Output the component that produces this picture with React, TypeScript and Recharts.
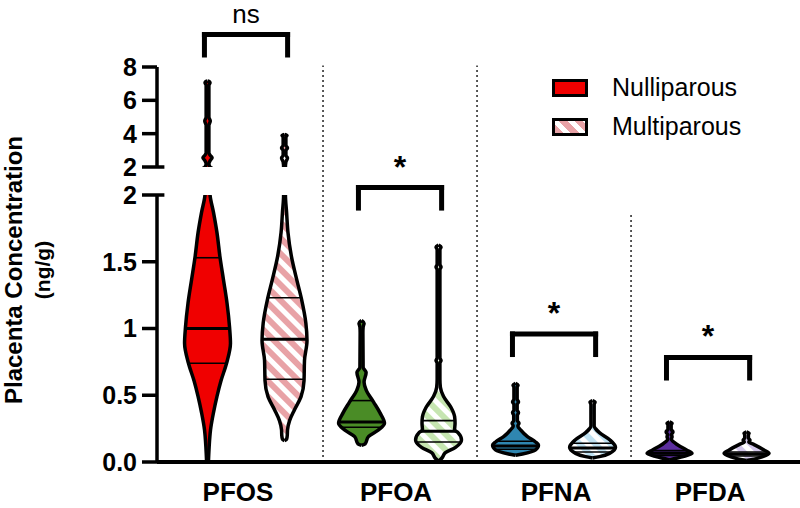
import React from "react";
import { ComposedChart, Area, XAxis, YAxis, ReferenceLine, ReferenceDot } from "recharts";

const CATEGORIES = ["PFOS", "PFOA", "PFNA", "PFDA"];
const GROUPS = ["Nulliparous", "Multiparous"];

// violin outlines: [concentration ng/g, relative width (100 = widest)]
const PFOS_NULLI = [
  [0, 4], [0.11, 7], [0.24, 13], [0.37, 26], [0.49, 41], [0.61, 59], [0.74, 83], [0.89, 100],
  [1.01, 96], [1.19, 85], [1.36, 70], [1.54, 54], [1.72, 41], [1.87, 26], [2.0, 11],
  [2.2, 6], [2.4, 12], [2.55, 20], [2.7, 12], [2.85, 6], [4.5, 6], [4.76, 12], [5.0, 6],
  [6.9, 6], [7.05, 11], [7.12, 8], [7.16, 0],
];
const PFOS_MULTI = [
  [0.16, 0], [0.17, 9], [0.2, 12], [0.24, 13], [0.31, 22], [0.39, 43], [0.49, 72], [0.61, 85],
  [0.76, 87], [0.91, 98], [1.04, 93], [1.22, 74], [1.36, 54], [1.54, 30], [1.72, 15], [1.87, 9],
  [2.0, 4], [2.3, 6], [2.54, 13], [2.7, 6], [3.0, 6], [3.14, 13], [3.3, 6], [3.8, 6], [3.9, 11], [3.96, 0],
];
const PFOA_NULLI = [
  [0.125, 0], [0.135, 15], [0.19, 30], [0.24, 74], [0.29, 100], [0.37, 80], [0.45, 52], [0.54, 20],
  [0.6, 11], [0.67, 20], [0.71, 7], [0.97, 6], [1.01, 7], [1.04, 11], [1.06, 0],
];
const PFOA_MULTI = [
  [0.005, 0], [0.03, 15], [0.07, 30], [0.11, 74], [0.165, 100], [0.22, 85], [0.24, 70], [0.29, 72],
  [0.34, 70], [0.41, 54], [0.49, 22], [0.56, 8], [0.62, 6], [0.74, 6], [0.76, 11], [0.78, 6],
  [1.44, 6], [1.46, 11], [1.48, 6], [1.59, 6], [1.61, 11], [1.625, 0],
];
const PFNA_NULLI = [
  [0.05, 0], [0.06, 30], [0.09, 87], [0.127, 100], [0.15, 87], [0.19, 52], [0.24, 22], [0.27, 10],
  [0.29, 15], [0.31, 8], [0.35, 8], [0.37, 13], [0.39, 7], [0.43, 7], [0.45, 13], [0.47, 7],
  [0.56, 7], [0.577, 11], [0.59, 0],
];
const PFNA_MULTI = [
  [0.03, 0], [0.04, 30], [0.065, 74], [0.11, 100], [0.165, 76], [0.22, 30], [0.25, 13], [0.27, 7],
  [0.43, 7], [0.45, 11], [0.46, 0],
];
const PFDA_NULLI = [
  [0.015, 0], [0.02, 9], [0.04, 59], [0.065, 98], [0.09, 74], [0.14, 26], [0.17, 8], [0.19, 11],
  [0.205, 8], [0.225, 15], [0.245, 7], [0.28, 7], [0.29, 11], [0.3, 0],
];
const PFDA_MULTI = [
  [0.012, 0], [0.017, 20], [0.04, 70], [0.065, 98], [0.09, 76], [0.13, 33], [0.15, 10], [0.165, 15],
  [0.18, 8], [0.205, 8], [0.215, 11], [0.225, 0],
];
const NULLI_SHAPES = [PFOS_NULLI, PFOA_NULLI, PFNA_NULLI, PFDA_NULLI];
const MULTI_SHAPES = [PFOS_MULTI, PFOA_MULTI, PFNA_MULTI, PFDA_MULTI];

// 25th / 50th / 75th percentiles
const NULLI_QUART = [[0.74, 1.0, 1.53], [0.26, 0.3, 0.46], [0.095, 0.12, 0.155], [0.05, 0.065, 0.085]];
const MULTI_QUART = [[0.62, 0.92, 1.23], [0.15, 0.23, 0.31], [0.075, 0.105, 0.14], [0.045, 0.06, 0.075]];

const SIG_TEXT = ["ns", "*", "*", "*"];
const SIG_Y = [9.95, 2.056, 0.959, 0.783]; // PFOS bracket sits in the upper (2-8) panel

const LOWER_TICKS = [0, 0.5, 1, 1.5, 2];
const LOWER_TICK_LABELS = ["0.0", "0.5", "1", "1.5", "2"];
const UPPER_TICKS = [2, 4, 6, 8];
const SEP_TOP = [2.97, 2.97, 1.85];

const NULLI_FILL = ["#f00000", "#4a8c26", "#2f86b0", "#5b2e9e"];
const MULTI_TINT = ["#e8a2a6", "#c6e5b1", "#bfe1f1", "#d2c6ea"];

const W = 800;
const H = 508;
const FONT = "'Liberation Sans', Arial, Helvetica, sans-serif";
const X_DOMAIN = [-0.078, 4.097];
const HALF = 0.149; // x units for a width of 100
const CAT_TICKS = [0.5, 1.5, 2.5, 3.5];
const CAT_SHIFT = [-8, -4, 2, 2];

const rows = (shape: number[][], cx: number) =>
  shape.map(([y, w]) => ({ y, r: [cx - (w / 100) * HALF, cx + (w / 100) * HALF] }));

const widthAt = (shape: number[][], q: number) => {
  for (let i = 1; i < shape.length; i++) {
    const [y0, w0] = shape[i - 1];
    const [y1, w1] = shape[i];
    if (q >= y0 && q <= y1) return w0 + ((w1 - w0) * (q - y0)) / (y1 - y0);
  }
  return 0;
};

function violins() {
  const out: any[] = [];
  CATEGORIES.forEach((c, i) => {
    out.push(
      <Area key={c + "n"} data={rows(NULLI_SHAPES[i], i + 0.25)} dataKey="r" type="monotone"
        stroke="#000" strokeWidth={3.5} fill={NULLI_FILL[i]} fillOpacity={1} dot={false} activeDot={false}
        isAnimationActive={false} />,
      <Area key={c + "m"} data={rows(MULTI_SHAPES[i], i + 0.75)} dataKey="r" type="monotone"
        stroke="#000" strokeWidth={3.5} fill={`url(#hatch${i})`} fillOpacity={1} dot={false} activeDot={false}
        isAnimationActive={false} />
    );
  });
  return out;
}

function quartileLines() {
  const out: any[] = [];
  CATEGORIES.forEach((c, i) => {
    [[NULLI_SHAPES[i], NULLI_QUART[i], i + 0.25], [MULTI_SHAPES[i], MULTI_QUART[i], i + 0.75]].forEach(
      ([shape, qs, cx]: any, k) => {
        qs.forEach((q: number, j: number) => {
          const w = (widthAt(shape, q) / 100) * HALF;
          out.push(
            <ReferenceLine key={`${c}${k}${j}`} segment={[{ x: cx - w, y: q }, { x: cx + w, y: q }]}
              stroke="#000" strokeWidth={j === 1 ? 3 : 1.6} ifOverflow="hidden" />
          );
        });
      }
    );
  });
  return out;
}

function bracket(i: number, drop: number) {
  const x1 = i + 0.23;
  const x2 = i + 0.77;
  const y = SIG_Y[i];
  const p = { stroke: "#000", strokeWidth: 5, strokeLinecap: "square" as const, ifOverflow: "visible" as const };
  return [
    <ReferenceLine key={"b1" + i} segment={[{ x: x1, y: y - drop }, { x: x1, y }]} {...p} />,
    <ReferenceLine key={"b2" + i} segment={[{ x: x1, y }, { x: x2, y }]} {...p} />,
    <ReferenceLine key={"b3" + i} segment={[{ x: x2, y: y - drop }, { x: x2, y }]} {...p} />,
    <ReferenceDot key={"bt" + i} x={i + 0.5} y={y} r={0} fill="none" stroke="none" ifOverflow="visible"
      label={{
        value: SIG_TEXT[i], position: "top", offset: i === 0 ? 12 : 10, fill: "#000",
        fontSize: i === 0 ? 26 : 32, fontWeight: i === 0 ? 400 : 700, fontFamily: FONT,
      }} />,
  ];
}

const tickStyle = { fontSize: 25, fontWeight: 700, fill: "#000", fontFamily: FONT };

const CatTick = ({ x, y, payload }: any) => {
  const i = Math.floor(payload.value);
  return (
    <text x={x + CAT_SHIFT[i]} y={y} dy={39} textAnchor="middle" fontSize={26} fontWeight={700}
      fontFamily={FONT} fill="#000">
      {CATEGORIES[i]}
    </text>
  );
};

export default function App() {
  return (
    <div style={{ position: "absolute", left: 0, top: 0, width: W, height: H, background: "#fff" }}>
      <svg width={0} height={0} style={{ position: "absolute" }}>
        <defs>
          {MULTI_TINT.map((t, i) => (
            <pattern key={i} id={`hatch${i}`} patternUnits="userSpaceOnUse" width={11} height={11}
              patternTransform="rotate(-45)">
              <rect width={11} height={11} fill={t} />
              <rect width={5} height={11} fill="#fff" />
            </pattern>
          ))}
        </defs>
      </svg>

      <div style={{ position: "absolute", left: 0, top: 0 }}>
        <ComposedChart width={W} height={H} layout="vertical" margin={{ top: 195, right: 0, bottom: 0, left: 97 }}>
          <XAxis type="number" domain={X_DOMAIN} allowDataOverflow ticks={CAT_TICKS} interval={0}
            tick={<CatTick />} tickLine={false} tickSize={0} tickMargin={0} height={46}
            axisLine={{ stroke: "#000", strokeWidth: 4 }} />
          <YAxis type="number" dataKey="y" domain={[0, 2]} allowDataOverflow reversed ticks={LOWER_TICKS} interval={0}
            tickFormatter={(v: number) => LOWER_TICK_LABELS[LOWER_TICKS.indexOf(v)]} width={60}
            tickSize={15} tickMargin={5} tick={tickStyle}
            tickLine={{ stroke: "#000", strokeWidth: 3.5 }} axisLine={{ stroke: "#000", strokeWidth: 3.5 }} />
          {SEP_TOP.map((t, i) => (
            <ReferenceLine key={"sep" + i} segment={[{ x: i + 1, y: 0 }, { x: i + 1, y: t }]}
              stroke="#222" strokeWidth={1.5} strokeDasharray="2 3" ifOverflow="visible" />
          ))}
          <ReferenceLine segment={[{ x: X_DOMAIN[0], y: 2 }, { x: -0.03, y: 2 }]} stroke="#000" strokeWidth={3.5}
            ifOverflow="visible" />
          {violins()}
          {quartileLines()}
          {[1, 2, 3].map((i) => bracket(i, 0.154))}
        </ComposedChart>
      </div>

      <div style={{ position: "absolute", left: 0, top: 0 }}>
        <ComposedChart width={W} height={H} layout="vertical" margin={{ top: 67, right: 0, bottom: 341, left: 97 }}>
          <XAxis type="number" domain={X_DOMAIN} allowDataOverflow hide height={0} />
          <YAxis type="number" dataKey="y" domain={[2, 8]} allowDataOverflow reversed ticks={UPPER_TICKS} interval={0}
            width={60} tickSize={15} tickMargin={5} tick={tickStyle}
            tickLine={{ stroke: "#000", strokeWidth: 3.5 }} axisLine={{ stroke: "#000", strokeWidth: 3.5 }} />
          <ReferenceLine segment={[{ x: X_DOMAIN[0], y: 2 }, { x: -0.03, y: 2 }]} stroke="#000" strokeWidth={3.5}
            ifOverflow="visible" />
          {violins()}
          {bracket(0, 1.23)}
        </ComposedChart>
      </div>

      <svg width={60} height={H} style={{ position: "absolute", left: 0, top: 0 }}>
        <text transform="translate(22,270) rotate(-90)" textAnchor="middle" fontSize={24} fontWeight={700}
          fontFamily={FONT} fill="#000">Placenta Concentration</text>
        <text transform="translate(50,270) rotate(-90)" textAnchor="middle" fontSize={21} fontWeight={700}
          fontFamily={FONT} fill="#000">(ng/g)</text>
      </svg>

      {GROUPS.map((g, i) => (
        <div key={g} style={{ position: "absolute", left: 552, top: 79 + i * 39, height: 18, fontFamily: FONT }}>
          <div style={{
            position: "absolute", left: 0, top: 0, width: 36, height: 18, boxSizing: "border-box",
            border: "3px solid #000",
            background: i === 0 ? NULLI_FILL[0]
              : `repeating-linear-gradient(45deg, ${MULTI_TINT[0]} 0 6px, #fff 6px 11px)`,
          }} />
          <div style={{ position: "absolute", left: 60, top: -7, fontSize: 25, lineHeight: "30px", whiteSpace: "nowrap", color: "#000" }}>
            {g}
          </div>
        </div>
      ))}
    </div>
  );
}
